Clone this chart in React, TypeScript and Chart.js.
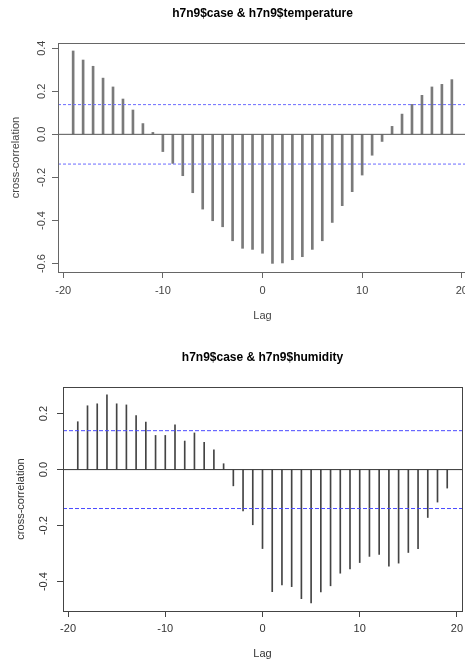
import React, { useEffect, useRef } from "react";
import { Chart, registerables } from "chart.js";

Chart.register(...registerables);

// ---- data ----
const lags = [-19,-18,-17,-16,-15,-14,-13,-12,-11,-10,-9,-8,-7,-6,-5,-4,-3,-2,-1,0,1,2,3,4,5,6,7,8,9,10,11,12,13,14,15,16,17,18,19];

const tempCcf = [0.387,0.345,0.316,0.261,0.220,0.164,0.113,0.050,0.009,-0.080,-0.135,-0.192,-0.271,-0.347,-0.401,-0.429,-0.494,-0.529,-0.534,-0.552,-0.599,-0.597,-0.582,-0.568,-0.534,-0.494,-0.409,-0.331,-0.266,-0.189,-0.097,-0.033,0.037,0.094,0.139,0.181,0.220,0.232,0.254];

const humCcf = [0.171,0.228,0.235,0.267,0.235,0.231,0.193,0.170,0.122,0.122,0.160,0.102,0.131,0.097,0.071,0.021,-0.058,-0.148,-0.197,-0.282,-0.436,-0.412,-0.418,-0.461,-0.476,-0.437,-0.415,-0.370,-0.355,-0.332,-0.310,-0.303,-0.345,-0.334,-0.296,-0.282,-0.171,-0.116,-0.066];

const tempCi = 0.138;
const humCi = 0.139;

const xTicks = [-20, -10, 0, 10, 20];
const tempYTicks = [-0.6, -0.4, -0.2, 0.0, 0.2, 0.4];
const humYTicks = [-0.4, -0.2, 0.0, 0.2];

const xLimits = [-20.52, 20.52];
const tempYLimits = [-0.639, 0.424];
const humYLimits = [-0.505, 0.295];

const FONT = '"Liberation Sans", Arial, sans-serif';

const rTextPlugin = {
  id: "rText",
  afterDraw(chart: any, _args: any, o: any) {
    const { ctx, chartArea: a } = chart;
    const x = chart.scales.x;
    const y = chart.scales.y;
    ctx.save();
    ctx.strokeStyle = o.boxColor;
    ctx.lineWidth = 1;
    ctx.strokeRect(Math.round(a.left) + 0.5, Math.round(a.top) + 0.5, Math.round(a.right - a.left), Math.round(a.bottom - a.top));
    const cx = (a.left + a.right) / 2;
    ctx.textAlign = "center";
    ctx.textBaseline = "middle";
    ctx.fillStyle = "#000";
    ctx.font = `bold 12px ${FONT}`;
    ctx.fillText(o.title, cx, o.titleY);
    ctx.font = `11px ${FONT}`;
    ctx.fillStyle = o.labelColor;
    x.ticks.forEach((t: any) => {
      ctx.fillText(String(t.value), x.getPixelForValue(t.value), o.xLabelY);
    });
    ctx.fillText("Lag", cx, o.lagY);
    y.ticks.forEach((t: any) => {
      ctx.save();
      ctx.translate(o.yTickX, y.getPixelForValue(t.value));
      ctx.rotate(-Math.PI / 2);
      ctx.fillText(Number(t.value).toFixed(1), 0, 0);
      ctx.restore();
    });
    ctx.save();
    ctx.translate(o.yTitleX, (a.top + a.bottom) / 2);
    ctx.rotate(-Math.PI / 2);
    ctx.fillText("cross-correlation", 0, 0);
    ctx.restore();
    ctx.restore();
  },
};

type Cfg = {
  title: string;
  values: number[];
  ci: number;
  yTicks: number[];
  yLimits: number[];
  barColor: string;
  barWidth: number;
  zeroColor: string;
  ciColor: string;
  ciDash: number[];
  boxColor: string;
  labelColor: string;
  pad: { top: number; right: number };
  yWidth: number;
  xHeight: number;
  titleY: number;
  xLabelY: number;
  lagY: number;
  yTickX: number;
  yTitleX: number;
};

function CcfChart({ cfg }: { cfg: Cfg }) {
  const ref = useRef<HTMLCanvasElement | null>(null);
  useEffect(() => {
    if (!ref.current) return;
    const lineAt = (v: number) => xLimits.map((xv) => ({ x: xv, y: v }));
    const chart = new Chart(ref.current, {
      type: "bar",
      data: {
        datasets: [
          {
            type: "bar",
            data: lags.map((l, i) => ({ x: l, y: cfg.values[i] })),
            backgroundColor: cfg.barColor,
            barThickness: cfg.barWidth,
            order: 2,
          } as any,
          {
            type: "line",
            data: lineAt(0),
            borderColor: cfg.zeroColor,
            borderWidth: 1,
            pointRadius: 0,
            order: 1,
          },
          {
            type: "line",
            data: lineAt(cfg.ci),
            borderColor: cfg.ciColor,
            borderWidth: 1,
            borderDash: cfg.ciDash,
            pointRadius: 0,
            order: 0,
          },
          {
            type: "line",
            data: lineAt(-cfg.ci),
            borderColor: cfg.ciColor,
            borderWidth: 1,
            borderDash: cfg.ciDash,
            pointRadius: 0,
            order: 0,
          },
        ],
      },
      options: {
        animation: false,
        responsive: false,
        events: [],
        layout: { padding: { left: 0, top: cfg.pad.top, right: cfg.pad.right, bottom: 0 } },
        plugins: {
          legend: { display: false },
          tooltip: { enabled: false },
          rText: {
            title: cfg.title,
            boxColor: cfg.boxColor,
            labelColor: cfg.labelColor,
            titleY: cfg.titleY,
            xLabelY: cfg.xLabelY,
            lagY: cfg.lagY,
            yTickX: cfg.yTickX,
            yTitleX: cfg.yTitleX,
          },
        } as any,
        scales: {
          x: {
            type: "linear",
            min: xLimits[0],
            max: xLimits[1],
            offset: false,
            afterBuildTicks: (s: any) => {
              s.ticks = xTicks.map((v) => ({ value: v }));
            },
            afterFit: (s: any) => {
              s.height = cfg.xHeight;
            },
            ticks: { display: false },
            grid: { display: true, drawOnChartArea: false, drawTicks: true, tickLength: 6, color: cfg.boxColor, offset: false },
            border: { display: false },
          },
          y: {
            type: "linear",
            min: cfg.yLimits[0],
            max: cfg.yLimits[1],
            afterBuildTicks: (s: any) => {
              s.ticks = cfg.yTicks.map((v) => ({ value: v }));
            },
            afterFit: (s: any) => {
              s.width = cfg.yWidth;
            },
            ticks: { display: false },
            grid: { display: true, drawOnChartArea: false, drawTicks: true, tickLength: 6, color: cfg.boxColor },
            border: { display: false },
          },
        },
      } as any,
      plugins: [rTextPlugin],
    });
    return () => chart.destroy();
  }, [cfg]);
  return <canvas ref={ref} width={475} height={330} style={{ display: "block", width: 475, height: 330 }} />;
}

const tempCfg: Cfg = {
  title: "h7n9$case & h7n9$temperature",
  values: tempCcf,
  ci: tempCi,
  yTicks: tempYTicks,
  yLimits: tempYLimits,
  barColor: "#7a7a7a",
  barWidth: 2,
  zeroColor: "#555555",
  ciColor: "#6b6bff",
  ciDash: [3, 2],
  boxColor: "#666666",
  labelColor: "#444444",
  pad: { top: 43, right: 8 },
  yWidth: 58,
  xHeight: 58,
  titleY: 14,
  xLabelY: 291,
  lagY: 316,
  yTickX: 42,
  yTitleX: 16,
};

const humCfg: Cfg = {
  title: "h7n9$case & h7n9$humidity",
  values: humCcf,
  ci: humCi,
  yTicks: humYTicks,
  yLimits: humYLimits,
  barColor: "#444444",
  barWidth: 1,
  zeroColor: "#333333",
  ciColor: "#4a4aff",
  ciDash: [4, 2],
  boxColor: "#444444",
  labelColor: "#333333",
  pad: { top: 57, right: 13 },
  yWidth: 63,
  xHeight: 49,
  titleY: 28,
  xLabelY: 299,
  lagY: 324,
  yTickX: 44,
  yTitleX: 21,
};

export default function App() {
  return (
    <div style={{ position: "absolute", left: 0, top: 0, width: 465, height: 660, overflow: "hidden", background: "#fff" }}>
      <CcfChart cfg={tempCfg} />
      <CcfChart cfg={humCfg} />
    </div>
  );
}
